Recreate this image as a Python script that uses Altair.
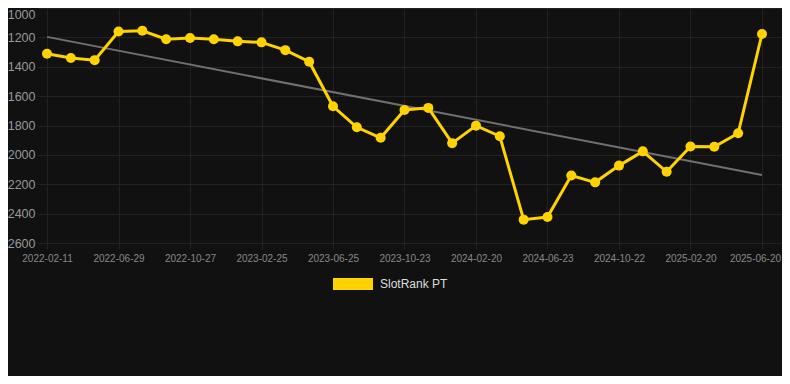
import json
import altair as alt
import pandas as pd

# SlotRank PT values (rank, lower is better), one per period
ranks = [1312, 1341, 1355, 1160, 1155, 1213, 1204, 1213, 1227, 1234,
         1287, 1366, 1669, 1812, 1884, 1694, 1680, 1920, 1801, 1873,
         2441, 2423, 2140, 2187, 2073, 1976, 2115, 1943, 1945, 1853,
         1177]
# labels shown on every third point
tick_labels = ["2022-02-11", "2022-06-29", "2022-10-27", "2023-02-25",
               "2023-06-25", "2023-10-23", "2024-02-20", "2024-06-23",
               "2024-10-22", "2025-02-20", "2025-06-20"]
y_ticks = [1000, 1200, 1400, 1600, 1800, 2000, 2200, 2400, 2600]
series_name = "SlotRank PT"

df = pd.DataFrame({"idx": list(range(len(ranks))), "rank": ranks,
                   "series": [series_name] * len(ranks)})

BG = "#111111"
GOLD = "#ffd200"
GRID = "#222222"

label_expr = json.dumps(tick_labels) + "[round(datum.value/3)]"

x_enc = alt.X("idx:Q",
              scale=alt.Scale(domain=[-0.378, 30.84], nice=False, zero=False),
              axis=alt.Axis(values=list(range(0, 31, 3)), labelExpr=label_expr,
                            title=None, grid=True, gridColor=GRID, domain=False,
                            tickColor=GRID, tickSize=6, labelColor="#888888",
                            labelFontSize=10, labelPadding=4, labelFont="Liberation Sans",
                            labelOffset={"condition": {"test": "datum.value == 30", "value": -7},
                                         "value": 0}))
y_enc = alt.Y("rank:Q",
              scale=alt.Scale(domain=[1000, 2600], reverse=True, nice=False, zero=False),
              axis=alt.Axis(values=y_ticks, format="d", title=None, grid=True, gridColor=GRID,
                            domain=False, ticks=False, labelPadding=3,
                            labelBaseline={"condition": {"test": "datum.value == 1000", "value": "top"},
                                           "value": "middle"},
                            labelColor="#999999", labelFontSize=12.5,
                            labelFont="Liberation Sans"))

base = alt.Chart(df)

trend = base.transform_regression("idx", "rank").mark_line(
    color="#707070", strokeWidth=2).encode(x=x_enc, y=y_enc)

line = base.mark_line(strokeWidth=3, point=alt.OverlayMarkDef(
    filled=True, size=100, fill=GOLD, opacity=1)).encode(
    x=x_enc, y=y_enc,
    color=alt.Color("series:N", scale=alt.Scale(range=[GOLD]),
                    legend=alt.Legend(title=None, orient="none", legendX=295, legendY=256,
                                      symbolType="M-1,-0.3L1,-0.3L1,0.3L-1,0.3Z",
                                      symbolSize=1600, symbolFillColor=GOLD,
                                      symbolStrokeColor=GOLD, symbolStrokeWidth=0,
                                      labelColor="#dddddd", labelFontSize=12,
                                      labelFont="Liberation Sans", labelOffset=7)))

chart = alt.layer(trend, line).properties(
    width=744, height=235,
    background=BG,
    padding={"left": 30, "top": 0, "right": 0, "bottom": 133},
    autosize=alt.AutoSizeParams(type="none"),
).configure_view(strokeWidth=0)

chart.save("out.html", embed_options={"renderer": "svg", "actions": False})
